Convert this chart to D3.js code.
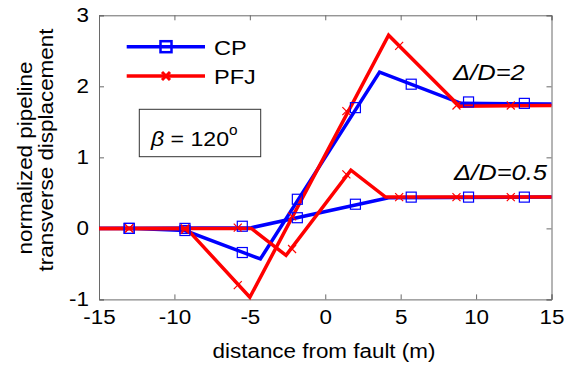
<!DOCTYPE html>
<html><head><meta charset="utf-8">
<script src="https://cdn.jsdelivr.net/npm/d3@7"></script>
<style>body{margin:0;background:#fff}svg{display:block}text{font-family:"Liberation Sans",Arial,sans-serif;fill:#000}</style>
</head><body><svg id="c" width="565" height="369"></svg>
<script>
const xTicks = [-15,-10,-5,0,5,10,15];
const yTicks = [-1,0,1,2,3];
// line vertices
const cpLine2X = [-15,-13,-9.3,-4.3,3.6,9.0,15];
const cpLine2Y = [0,0,-0.03,-0.43,2.2,1.76,1.75];
const cpLine05X = [-15,-4.9,4.2,15];
const cpLine05Y = [0,0.01,0.43,0.44];
const pfjLine2X = [-15,-9.2,-5.0,4.2,8.9,15];
const pfjLine2Y = [0,0,-0.97,2.72,1.72,1.73];
const pfjLine05X = [-15,-4.9,-2.6,1.7,4.0,15];
const pfjLine05Y = [0,0,-0.38,0.82,0.44,0.44];
// markers
const cpMarkX = [-13.0,-9.3,-5.5,-1.85,2.0,5.7,9.5,13.2];
const cpMark2Y = [0,-0.03,-0.34,0.41,1.70,2.03,1.78,1.76];
const cpMark05Y = [0,0,0.03,0.15,0.34,0.44,0.44,0.44];
const pfjMarkX = [-13.0,-9.3,-5.8,-2.2,1.4,4.9,8.7,12.3];
const pfjMark2Y = [0,-0.02,-0.80,0.17,1.65,2.57,1.73,1.73];
const pfjMark05Y = [0,0,0.01,-0.29,0.76,0.44,0.44,0.44];
const seriesNames = ["CP","PFJ"];
const xLabel = "distance from fault (m)";
const yLabel1 = "normalized pipeline";
const yLabel2 = "transverse displacement";

const svg = d3.select("#c");
const L=99, R=551.5, T=15.3, B=299.4;
const x = d3.scaleLinear().domain([-15,15]).range([L,R]);
const y = d3.scaleLinear().domain([-1,3]).range([B,T]);
const STRETCH=1.12, FS=20;
function stretchText(sel, k){
  k = k||STRETCH;
  sel.each(function(){ const w=this.getComputedTextLength(); d3.select(this).attr("textLength",w*k).attr("lengthAdjust","spacingAndGlyphs"); });
}
const zip=(a,b)=>a.map((v,i)=>[v,b[i]]);
const line = d3.line().x(d=>x(d[0])).y(d=>y(d[1]));

// axes box & ticks
const axCol="#6a6a6a";
const gx = svg.append("g").attr("transform",`translate(0,${B})`).call(d3.axisBottom(x).tickValues(xTicks).tickSize(-5).tickPadding(10).tickFormat(d=>String(d)));
const gxt = svg.append("g").attr("transform",`translate(0,${T})`).call(d3.axisTop(x).tickValues(xTicks).tickSize(-5).tickFormat(""));
const gy = svg.append("g").attr("transform",`translate(${L},0)`).call(d3.axisLeft(y).tickValues(yTicks).tickSize(-5).tickPadding(10).tickFormat(d=>String(d)));
const gyr = svg.append("g").attr("transform",`translate(${R},0)`).call(d3.axisRight(y).tickValues(yTicks).tickSize(-5).tickFormat(""));
[gx,gxt,gy,gyr].forEach(g=>{g.selectAll("path").attr("stroke",axCol);g.selectAll("line").attr("stroke",axCol);g.selectAll("text").attr("font-size",FS).attr("font-family","Liberation Sans, Arial, sans-serif").attr("fill","#000");});
gx.selectAll(".tick text").attr("dy","0.71em").call(stretchText);
gy.selectAll(".tick text").call(stretchText);

// lines
const g = svg.append("g");
[[cpLine2X,cpLine2Y],[cpLine05X,cpLine05Y]].forEach(([a,b])=>g.append("path").attr("d",line(zip(a,b))).attr("fill","none").attr("stroke","#0000ff").attr("stroke-width",3.5).attr("stroke-linejoin","miter"));
[[pfjLine2X,pfjLine2Y],[pfjLine05X,pfjLine05Y]].forEach(([a,b])=>g.append("path").attr("d",line(zip(a,b))).attr("fill","none").attr("stroke","#ff0000").attr("stroke-width",3.5).attr("stroke-linejoin","miter"));
// markers
const sq=10, xs=4;
[cpMark2Y,cpMark05Y].forEach(ys=>{
  g.selectAll(null).data(zip(cpMarkX,ys)).join("rect").attr("x",d=>x(d[0])-sq/2).attr("y",d=>y(d[1])-sq/2).attr("width",sq).attr("height",sq).attr("fill","none").attr("stroke","#0000ff").attr("stroke-width",1.2);
});
[pfjMark2Y,pfjMark05Y].forEach(ys=>{
  g.selectAll(null).data(zip(pfjMarkX,ys)).join("path").attr("d",d=>{const cx=x(d[0]),cy=y(d[1]);return `M${cx-xs},${cy-xs}L${cx+xs},${cy+xs}M${cx-xs},${cy+xs}L${cx+xs},${cy-xs}`;}).attr("fill","none").attr("stroke","#ff0000").attr("stroke-width",1.2);
});

// legend
const leg=[{n:seriesNames[0],c:"#0000ff",m:"sq",y:46.7},{n:seriesNames[1],c:"#ff0000",m:"x",y:76}];
leg.forEach(l=>{
  svg.append("line").attr("x1",126.7).attr("x2",205).attr("y1",l.y).attr("y2",l.y).attr("stroke",l.c).attr("stroke-width",3.5);
  if(l.m==="sq") svg.append("rect").attr("x",166-5.5).attr("y",l.y-5.5).attr("width",11).attr("height",11).attr("fill","none").attr("stroke",l.c).attr("stroke-width",2.5);
  else svg.append("path").attr("d",`M${166-4},${l.y-4}L${166+4},${l.y+4}M${166-4},${l.y+4}L${166+4},${l.y-4}`).attr("stroke",l.c).attr("stroke-width",3);
  svg.append("text").attr("x",214).attr("y",l.y+8).attr("font-size",21).text(l.n).call(stretchText);
});

// beta box
svg.append("rect").attr("x",139.3).attr("y",109.3).attr("width",121.4).attr("height",47.4).attr("fill","#fff").attr("stroke","#333").attr("stroke-width",1);
const bt = svg.append("text").attr("x",151).attr("y",146).attr("font-size",21);
bt.append("tspan").attr("font-style","italic").text("β");
bt.append("tspan").text(" = 120");
bt.append("tspan").attr("font-size",14).attr("dy",-11).text("o");
stretchText(bt, 1.1);

// delta labels
svg.append("text").attr("x",453).attr("y",80).attr("font-size",22).attr("font-style","italic").text("Δ/D=2").call(stretchText,1.16);
svg.append("text").attr("x",454).attr("y",180).attr("font-size",22).attr("font-style","italic").text("Δ/D=0.5").call(stretchText,1.16);

// axis labels
svg.append("text").attr("x",324).attr("y",358).attr("text-anchor","middle").attr("font-size",FS).text(xLabel).call(stretchText);
svg.append("text").attr("transform","translate(32,158) rotate(-90)").attr("text-anchor","middle").attr("font-size",FS).text(yLabel1).call(stretchText);
svg.append("text").attr("transform","translate(53,150) rotate(-90)").attr("text-anchor","middle").attr("font-size",FS).text(yLabel2).call(stretchText);
</script></body></html>
